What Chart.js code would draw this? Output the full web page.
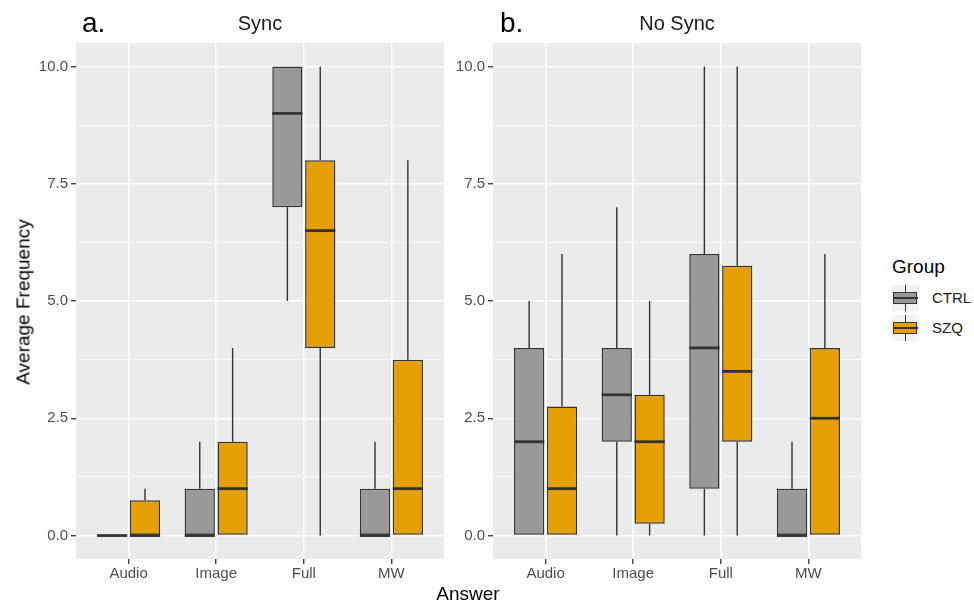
<!DOCTYPE html>
<html>
<head>
<meta charset="utf-8">
<script src="https://cdn.jsdelivr.net/npm/chart.js@4"></script>
<style>
    body { margin: 0; background: #fff; width: 974px; height: 604px; overflow: hidden; position: relative;
           font-family: "Liberation Sans", Arial, sans-serif; }
    canvas { position: absolute; top: 0; }
    .txt { position: absolute; white-space: nowrap; }
    .key { position: absolute; left: 892px; width: 27px; height: 26px; background: #F2F2F2; }
    .key .wh { position: absolute; left: 13px; width: 1.4px; top: 0; height: 26px; background: #333; }
    .key .bx { position: absolute; left: 1px; width: 22px; top: 7px; height: 10px; border: 1.5px solid #333; }
    .key .md { position: absolute; left: 1px; width: 25px; top: 11.5px; height: 2.6px; background: #333; }
</style>
</head>
<body>
<canvas id="chart-sync" width="450" height="604" style="left:0"></canvas>
<canvas id="chart-nosync" width="424" height="604" style="left:445px"></canvas>

<div class="txt" style="left:82px; top:9px; font-size:28px; line-height:28px; color:#000">a.</div>
<div class="txt" style="left:500px; top:9px; font-size:28px; line-height:28px; color:#000">b.</div>
<div class="txt" style="left:160px; width:200px; text-align:center; top:13px; font-size:20px; line-height:20px; color:#1A1A1A">Sync</div>
<div class="txt" style="left:577px; width:200px; text-align:center; top:13px; font-size:20px; line-height:20px; color:#1A1A1A">No Sync</div>
<div class="txt" style="left:23px; top:302px; font-size:19px; line-height:19px; transform:translate(-50%,-50%) rotate(-90deg)">Average Frequency</div>
<div class="txt" style="left:368px; width:200px; text-align:center; top:584px; font-size:19px; line-height:19px">Answer</div>

<div class="txt" style="left:892px; top:257px; font-size:19px; line-height:19px">Group</div>
<div class="key" style="top:285px"><div class="wh"></div><div class="bx" style="background:#999999"></div><div class="md"></div></div>
<div class="key" style="top:315px"><div class="wh"></div><div class="bx" style="background:#E69F00"></div><div class="md"></div></div>
<div class="txt" style="left:932px; top:290px; font-size:15px; line-height:16px; color:#1A1A1A">CTRL</div>
<div class="txt" style="left:932px; top:320px; font-size:15px; line-height:16px; color:#1A1A1A">SZQ</div>

<script>
// Box plot stats per category: [lower whisker, Q1, median, Q3, upper whisker]
const categories = ['Audio', 'Image', 'Full', 'MW'];
const groups = ['CTRL', 'SZQ'];
const groupColors = ['#999999', '#E69F00'];

const syncCtrl = [[0, 0, 0, 0, 0], [0, 0, 0, 1, 2], [5, 7, 9, 10, 10], [0, 0, 0, 1, 2]];
const syncSzq = [[0, 0, 0, 0.75, 1], [0, 0, 1, 2, 4], [0, 4, 6.5, 8, 10], [0, 0, 1, 3.75, 8]];
const noSyncCtrl = [[0, 0, 2, 4, 5], [0, 2, 3, 4, 7], [0, 1, 4, 6, 10], [0, 0, 0, 1, 2]];
const noSyncSzq = [[0, 0, 1, 2.75, 6], [0, 0.25, 2, 3, 5], [0, 2, 3.5, 5.75, 10], [0, 0, 2.5, 4, 6]];

const yMajorTicks = [0, 2.5, 5, 7.5, 10];
const yMinorTicks = [1.25, 3.75, 6.25, 8.75];

// Panel background, whiskers under the boxes, median on top
const boxPlotPlugin = {
    id: 'boxPlot',
    beforeDraw(chart) {
        const a = chart.chartArea;
        const ctx = chart.ctx;
        ctx.save();
        ctx.fillStyle = '#EBEBEB';
        ctx.fillRect(a.left, a.top, a.right - a.left, a.bottom - a.top);
        ctx.restore();
    },
    beforeDatasetsDraw(chart) {
        const ctx = chart.ctx;
        const y = chart.scales.y;
        ctx.save();
        ctx.strokeStyle = '#333333';
        ctx.lineWidth = 1.4;
        chart.data.datasets.forEach((ds, d) => {
            chart.getDatasetMeta(d).data.forEach((bar, i) => {
                const s = ds.stats[i];
                ctx.beginPath();
                ctx.moveTo(bar.x, y.getPixelForValue(s[3]));
                ctx.lineTo(bar.x, y.getPixelForValue(s[4]));
                ctx.moveTo(bar.x, y.getPixelForValue(s[1]));
                ctx.lineTo(bar.x, y.getPixelForValue(s[0]));
                ctx.stroke();
            });
        });
        ctx.restore();
    },
    afterDatasetsDraw(chart) {
        const ctx = chart.ctx;
        const y = chart.scales.y;
        ctx.save();
        ctx.strokeStyle = '#333333';
        ctx.lineWidth = 2.8;
        chart.data.datasets.forEach((ds, d) => {
            chart.getDatasetMeta(d).data.forEach((bar, i) => {
                const py = y.getPixelForValue(ds.stats[i][2]);
                ctx.beginPath();
                ctx.moveTo(bar.x - bar.width / 2, py);
                ctx.lineTo(bar.x + bar.width / 2, py);
                ctx.stroke();
            });
        });
        ctx.restore();
    }
};

function makeDataset(label, color, stats) {
    return {
        label,
        stats,
        data: stats.map((s, i) => ({ x: i + 1, y: [s[1], s[3]] })),
        backgroundColor: color,
        borderColor: '#333333',
        borderWidth: 1.5,
        borderSkipped: false,
        categoryPercentage: 0.75,
        barPercentage: 0.92
    };
}

function makeChart(id, ctrlStats, szqStats, axisWidth, rightPad) {
    const tickFont = { family: '"Liberation Sans", Arial, sans-serif', size: 15 };
    return new Chart(document.getElementById(id), {
        type: 'bar',
        data: {
            datasets: [
                makeDataset(groups[0], groupColors[0], ctrlStats),
                makeDataset(groups[1], groupColors[1], szqStats)
            ]
        },
        options: {
            responsive: false,
            animation: false,
            devicePixelRatio: 1,
            layout: { padding: { top: 43, right: rightPad, left: 0, bottom: 0 } },
            plugins: { legend: { display: false }, tooltip: { enabled: false } },
            scales: {
                x: {
                    type: 'linear',
                    min: 0.4,
                    max: 4.6,
                    offset: false,
                    afterBuildTicks: s => { s.ticks = categories.map((c, i) => ({ value: i + 1 })); },
                    afterFit: s => { s.height = 45; },
                    ticks: {
                        autoSkip: false,
                        maxRotation: 0,
                        padding: 1,
                        color: '#4D4D4D',
                        font: tickFont,
                        callback: v => categories[v - 1]
                    },
                    grid: {
                        offset: false,
                        color: '#FFFFFF',
                        lineWidth: 1.5,
                        tickLength: 5,
                        tickColor: '#333333',
                        tickWidth: 1.3
                    },
                    border: { display: false }
                },
                y: {
                    min: -0.5,
                    max: 10.5,
                    afterBuildTicks: s => {
                        s.ticks = [...yMajorTicks, ...yMinorTicks].sort((a, b) => a - b).map(v => ({ value: v }));
                    },
                    afterFit: s => { s.width = axisWidth; },
                    ticks: {
                        autoSkip: false,
                        padding: 3,
                        color: '#4D4D4D',
                        font: tickFont,
                        callback: v => yMajorTicks.includes(v) ? v.toFixed(1) : ''
                    },
                    grid: {
                        color: '#FFFFFF',
                        lineWidth: c => yMajorTicks.includes(c.tick.value) ? 1.5 : 0.7,
                        tickLength: 5,
                        tickWidth: 1.3,
                        tickColor: c => yMajorTicks.includes(c.tick.value) ? '#333333' : 'rgba(0,0,0,0)'
                    },
                    border: { display: false }
                }
            }
        },
        plugins: [boxPlotPlugin]
    });
}

makeChart('chart-sync', syncCtrl, syncSzq, 76, 6);
makeChart('chart-nosync', noSyncCtrl, noSyncSzq, 48, 8);
</script>
</body>
</html>
